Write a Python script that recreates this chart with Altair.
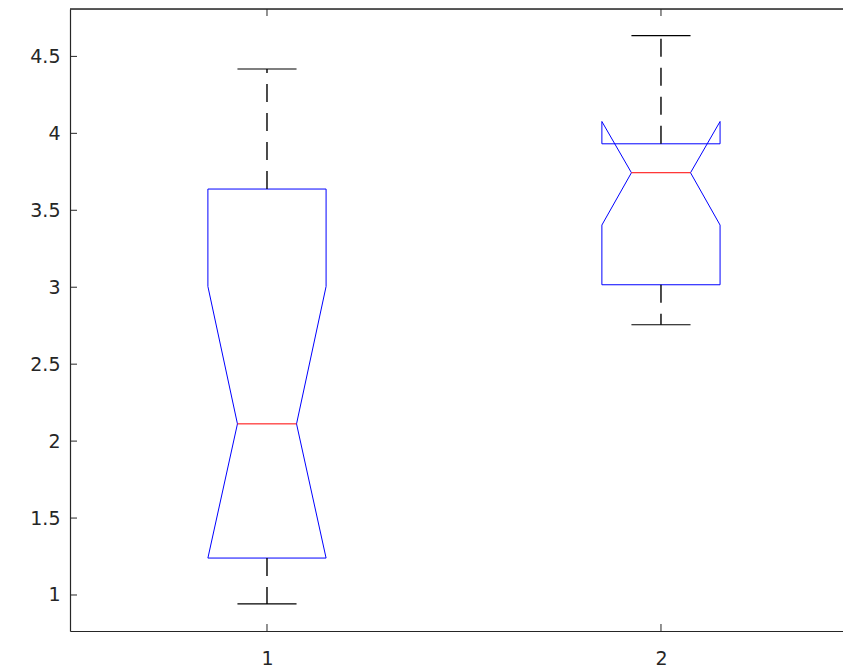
import altair as alt
import pandas as pd

# ---- data (MATLAB notched boxplot) ----
groups = [1, 2]
q1 = [1.24, 3.016]
q3 = [3.638, 3.932]
median = [2.112, 3.744]
notch_lo = [1.24, 3.404]
notch_hi = [3.005, 4.077]
whisk_lo = [0.942, 2.756]
whisk_hi = [4.418, 4.635]

y_ticks = [1, 1.5, 2, 2.5, 3, 3.5, 4, 4.5]
x_ticks = [1, 2]

X_MIN, X_MAX = 0.5, 2.462
Y_MIN, Y_MAX = 0.766, 4.808
BOX_W = 0.15      # half width of box (data units)
NOTCH_W = 0.075   # half width at the notch / caps

AX = "#262626"
FONT = "DejaVu Sans"

# box outline polygons built from the statistics
rows = []
for g, a, b, m, nl, nh in zip(groups, q1, q3, median, notch_lo, notch_hi):
    pts = [
        (g - BOX_W, a), (g - BOX_W, nl), (g - NOTCH_W, m), (g - BOX_W, nh),
        (g - BOX_W, b), (g + BOX_W, b), (g + BOX_W, nh), (g + NOTCH_W, m),
        (g + BOX_W, nl), (g + BOX_W, a), (g - BOX_W, a),
    ]
    for i, (px, py) in enumerate(pts):
        rows.append({"group": g, "order": i, "x": px, "y": py})
box_df = pd.DataFrame(rows)

whisk_df = pd.DataFrame(
    [{"x": g, "y": b, "y2": wh} for g, b, wh in zip(groups, q3, whisk_hi)]
    + [{"x": g, "y": a, "y2": wl} for g, a, wl in zip(groups, q1, whisk_lo)]
)
cap_df = pd.DataFrame(
    [{"x": g - NOTCH_W, "x2": g + NOTCH_W, "y": w} for g, w in zip(groups, whisk_hi)]
    + [{"x": g - NOTCH_W, "x2": g + NOTCH_W, "y": w} for g, w in zip(groups, whisk_lo)]
)
med_df = pd.DataFrame(
    [{"x": g - NOTCH_W, "x2": g + NOTCH_W, "y": m} for g, m in zip(groups, median)]
)
ytick_df = pd.DataFrame({"v": y_ticks})
xtick_df = pd.DataFrame({"v": x_ticks})

xscale = alt.Scale(domain=[X_MIN, X_MAX], nice=False, zero=False)
yscale = alt.Scale(domain=[Y_MIN, Y_MAX], nice=False, zero=False)

xaxis = alt.Axis(values=x_ticks, ticks=False, grid=False, title=None,
                 domainColor=AX, domainWidth=1.2, labelColor=AX,
                 labelFont=FONT, labelFontSize=19, labelPadding=18, format="~g")
yaxis = alt.Axis(values=y_ticks, ticks=False, grid=False, title=None,
                 domainColor=AX, domainWidth=1.2, labelColor=AX,
                 labelFont=FONT, labelFontSize=19, labelPadding=10, format="~g")


def X(field):
    return alt.X(field, type="quantitative", scale=xscale, axis=xaxis)


def Y(field):
    return alt.Y(field, type="quantitative", scale=yscale, axis=yaxis)


def XD(v):
    return alt.XDatum(v, type="quantitative", scale=xscale, axis=xaxis)


def YD(v):
    return alt.YDatum(v, type="quantitative", scale=yscale, axis=yaxis)


boxes = alt.Chart(box_df).mark_line(color="#0000ff", strokeWidth=1).encode(
    x=X("x"), y=Y("y"), detail="group:N", order="order:Q",
)

whiskers = alt.Chart(whisk_df).mark_rule(color="black", strokeWidth=1.4, strokeDash=[18, 11]).encode(
    x=X("x"), y=Y("y"), y2="y2:Q"
)

caps = alt.Chart(cap_df).mark_rule(color="black", strokeWidth=1.2).encode(
    x=X("x"), x2="x2:Q", y=Y("y")
)

medians = alt.Chart(med_df).mark_rule(color="#ff0000", strokeWidth=1).encode(
    x=X("x"), x2="x2:Q", y=Y("y")
)

top_frame = alt.Chart(xtick_df).mark_rule(color=AX, strokeWidth=1.2).encode(
    x=XD(X_MIN), x2=alt.X2Datum(X_MAX), y=YD(Y_MAX)
)

yticks = alt.Chart(ytick_df).mark_rule(color=AX, strokeWidth=1, x2Offset=7).encode(
    x=XD(X_MIN), x2=alt.X2Datum(X_MIN), y=Y("v")
)
xticks_bottom = alt.Chart(xtick_df).mark_rule(color=AX, strokeWidth=1, y2Offset=-7).encode(
    x=X("v"), y=YD(Y_MIN), y2=alt.Y2Datum(Y_MIN)
)
xticks_top = alt.Chart(xtick_df).mark_rule(color=AX, strokeWidth=1, y2Offset=7).encode(
    x=X("v"), y=YD(Y_MAX), y2=alt.Y2Datum(Y_MAX)
)

chart = alt.layer(
    boxes, whiskers, caps, medians, top_frame, yticks, xticks_bottom, xticks_top
).properties(
    width=773, height=622,
    autosize=alt.AutoSizeParams(type="none"),
    padding={"left": 62, "top": 1, "right": 0, "bottom": 40},
).configure_view(stroke=None).configure(background="white")

chart.save("out.html", embed_options={"renderer": "svg", "actions": False})
